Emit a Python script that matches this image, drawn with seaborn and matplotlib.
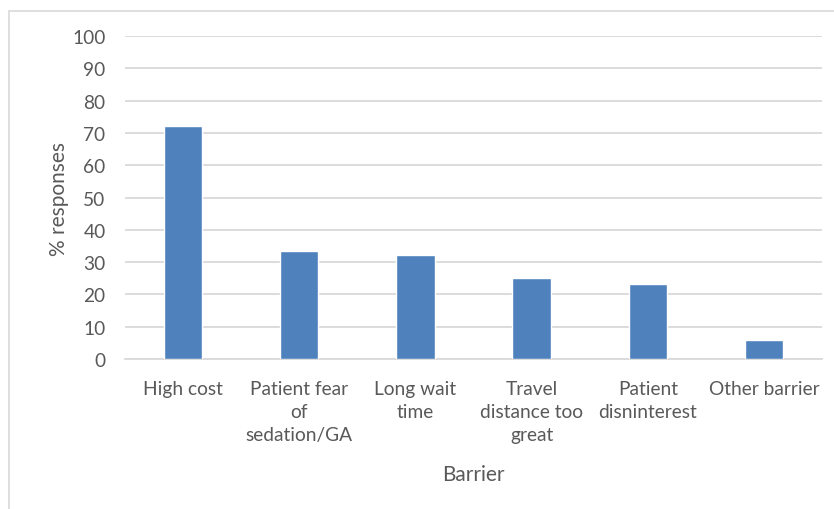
import matplotlib
matplotlib.use("Agg")
import matplotlib.pyplot as plt
import seaborn as sns
import pandas as pd
from matplotlib.patches import Rectangle

barriers = ["High cost", "Patient fear\nof\nsedation/GA", "Long wait\ntime",
            "Travel\ndistance too\ngreat", "Patient\ndisninterest", "Other barrier"]
responses = [72.0, 33.3, 32.1, 25.0, 23.2, 5.8]
yticks = [0, 10, 20, 30, 40, 50, 60, 70, 80, 90, 100]

sns.set_theme(style="white")
plt.rcParams["font.family"] = ["Lato", "DejaVu Sans"]

df = pd.DataFrame({"Barrier": barriers, "pct": responses})

W, H = 834, 510
fig = plt.figure(figsize=(W / 100, H / 100), dpi=100)
ax = fig.add_axes([125 / W, 1 - 360 / H, (822 - 125) / W, (360 - 37) / H])

text_col = "#595959"
sns.barplot(data=df, x="Barrier", y="pct", color="#4F81BD", saturation=1,
            width=0.33, ax=ax, zorder=3)

ax.set_ylim(0, 100)
ax.set_xlim(-0.5, len(barriers) - 0.5)
ax.set_yticks(yticks)
ax.yaxis.grid(True, color="#D9D9D9", linewidth=1.3, zorder=0)
ax.set_axisbelow(True)
for s in ["top", "right", "left"]:
    ax.spines[s].set_visible(False)
ax.spines["bottom"].set_color("#D9D9D9")
ax.spines["bottom"].set_linewidth(1.3)
ax.tick_params(axis="both", length=0, labelsize=13.8, colors=text_col)
ax.tick_params(axis="y", pad=14)
ax.tick_params(axis="x", pad=15)
for lbl in ax.get_xticklabels():
    lbl.set_linespacing(1.45)

ax.set_xlabel("Barrier", fontsize=15, color=text_col, labelpad=15)
ax.set_ylabel("% responses", fontsize=15, color=text_col, labelpad=2)

# chart area border
fig.patches.append(Rectangle((9 / W, -0.1), 1.0, 1 - 12 / H + 0.1,
                             transform=fig.transFigure, fill=False,
                             edgecolor="#D9D9D9", linewidth=1.2))

fig.savefig("out.png", dpi=100, facecolor="white")
